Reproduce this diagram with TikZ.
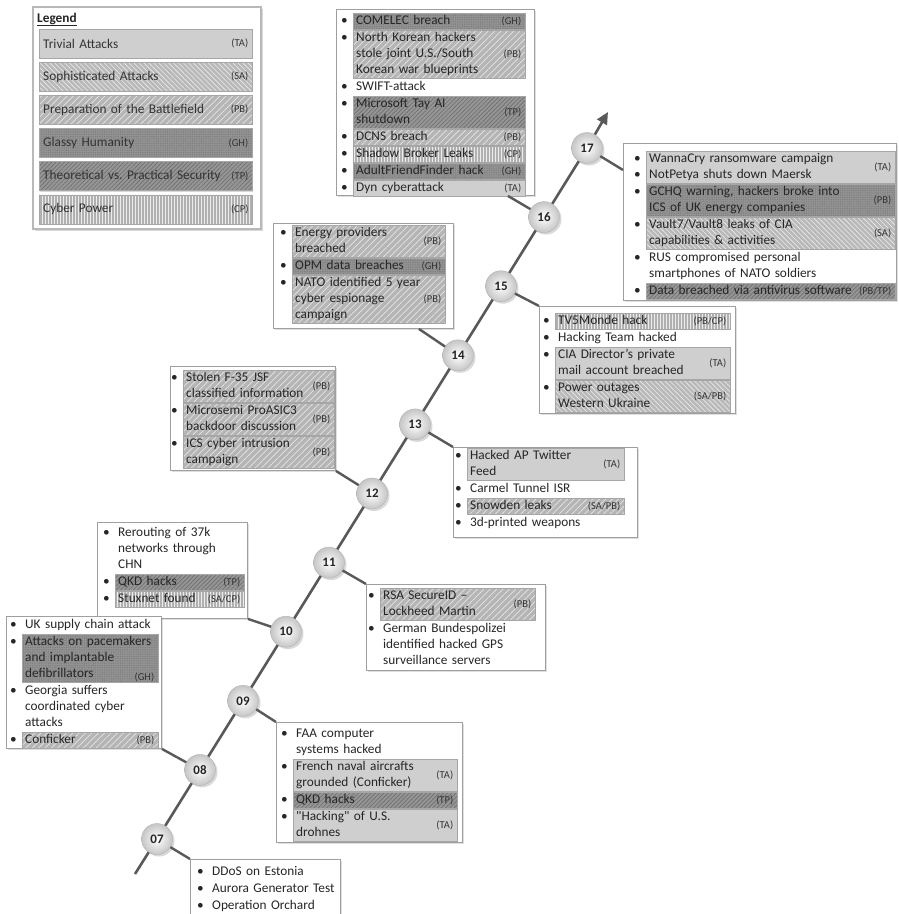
\documentclass[tikz,border=0pt]{standalone}
\usepackage{fontspec}
\setmainfont{Carlito}
\usetikzlibrary{positioning,shadows,patterns.meta,arrows.meta}
\newcommand{\evfont}{\fontsize{13.3}{16}\selectfont}
\newcommand{\tagfont}{\fontsize{10.5}{12}\selectfont}
\frenchspacing
\begin{document}
\begin{tikzpicture}[x=1pt,y=-1pt,
    % boxes, items and their labels
    evbox/.style 2 args={draw=gray!75, line width=0.9pt, fill=white, anchor=north west, inner sep=0pt,
      minimum width=#1pt, minimum height=#2pt,
      drop shadow={shadow xshift=1.5pt, shadow yshift=-1.5pt, opacity=0.25}},
    ev/.style={anchor=north west, inner xsep=3pt, inner ysep=0pt, text width=#1, align=left,
      font=\evfont, text=black!85, execute at begin node=\strut, execute at end node=\strut,
      label={[bul]north west:\strut\textbullet}},
    bul/.style={anchor=north east, inner sep=0pt, xshift=-5pt, font=\evfont, text=black!85},
    bultwo/.style={label={[bul,yshift=-16pt]north west:\strut\textbullet}},
    tagl/.style={anchor=east, inner xsep=4pt, inner ysep=0pt, font=\tagfont, text=black!80},
    tag/.style={label={[tagl]east:(#1)}},
    stack/.style={below=0.6pt of #1.south west, anchor=north west},
    % the six kinds of events
    bar/.style={draw=gray!70, line width=0.4pt, drop shadow={shadow xshift=1pt, shadow yshift=-1pt, opacity=0.3}},
    ta/.style={bar, preaction={fill=gray!35}, pattern={Dots[distance=2pt, radius=0.4pt]}, pattern color=gray!60},
    sa/.style={bar, preaction={fill=gray!55}, pattern={Lines[angle=-45, distance=3.5pt, line width=0.6pt]}, pattern color=gray!15},
    pb/.style={bar, preaction={fill=gray!58}, pattern={Lines[angle=45, distance=4.5pt, line width=0.7pt]}, pattern color=gray!20},
    gh/.style={bar, preaction={fill=gray!85}, pattern={Dots[distance=1.8pt, radius=0.45pt]}, pattern color=black!55},
    tp/.style={bar, preaction={fill=gray!82}, pattern={Lines[angle=45, distance=3pt, line width=0.8pt]}, pattern color=black!55},
    cp/.style={bar, preaction={fill=gray!62}, pattern={Lines[angle=90, distance=3pt, line width=0.9pt]}, pattern color=gray!15},
    leg/.style={anchor=north west, minimum width=213pt, minimum height=29pt, text width=205pt, inner xsep=4pt,
      align=left, font=\evfont, text=black!80},
    % timeline
    year/.style={circle, minimum size=31pt, inner sep=0pt, inner color=white, outer color=gray!45, draw=gray!60,
      font=\fontsize{13}{15}\selectfont\bfseries, text=black!85,
      drop shadow={shadow xshift=2pt, shadow yshift=-2pt, opacity=0.3}},
    spine/.style={draw=black!65, line width=2.6pt},
    link/.style={draw=black!65, line width=2.4pt},
  ]
  \useasboundingbox (0,0) rectangle (898,914);

  % Legend:
  % One frame, and one bar per kind, stacked with `below`
  \node[draw=gray!55, line width=2pt, fill=white, anchor=north west, minimum width=228pt, minimum height=222pt,
    drop shadow={shadow xshift=2pt, shadow yshift=-2pt, opacity=0.3}] (legbox) at (32,6) {};
  \node[anchor=base west, inner sep=0pt, font=\evfont\bfseries, text=black!85] (legtitle) at (37,22) {\underline{Legend}};
  \node[leg, ta, tag=TA] (lta) at (39,29) {Trivial Attacks};
  \node[leg, sa, tag=SA, below=3.5pt of lta] (lsa) {Sophisticated Attacks};
  \node[leg, pb, tag=PB, below=3.5pt of lsa] (lpb) {Preparation of the Battlefield};
  \node[leg, gh, tag=GH, below=3.5pt of lpb] (lgh) {Glassy Humanity};
  \node[leg, tp, tag=TP, below=3.5pt of lgh] (ltp) {Theoretical vs. Practical Security};
  \node[leg, cp, tag=CP, below=3.5pt of ltp] (lcp) {Cyber Power};

  % Event boxes:
  % Each box is placed at its corner, the first item goes in at an offset,
  % the others are hung below it with `stack`
  % 2016
  \node[evbox={198}{186}] (b16) at (336,9) {};
  \node[ev=166pt, gh, tag=GH] (e16a) at ([xshift=17pt,yshift=-4pt]b16.north west) {COMELEC breach};
  \node[ev=166pt, pb, tag=PB, stack=e16a] (e16b) {North Korean hackers\\stole joint U.S./South\\Korean war blueprints};
  \node[ev=166pt, stack=e16b] (e16c) {SWIFT-attack};
  \node[ev=166pt, tp, tag=TP, stack=e16c] (e16d) {Microsoft Tay AI\\shutdown};
  \node[ev=166pt, pb, tag=PB, stack=e16d] (e16e) {DCNS breach};
  \node[ev=166pt, cp, tag=CP, stack=e16e] (e16f) {Shadow Broker Leaks};
  \node[ev=166pt, gh, tag=GH, stack=e16f] (e16g) {AdultFriendFinder hack};
  \node[ev=166pt, ta, tag=TA, stack=e16g] (e16h) {Dyn cyberattack};

  % 2017
  \node[evbox={273}{157}] (b17) at (623,143) {};
  \node[ev=243pt, ta, tag=TA, bultwo] (e17a) at ([xshift=23pt,yshift=-8pt]b17.north west) {WannaCry ransomware campaign\\NotPetya shuts down Maersk};
  \node[ev=243pt, gh, tag=PB, stack=e17a] (e17b) {GCHQ warning, hackers broke into\\ICS of UK energy companies};
  \node[ev=243pt, sa, tag=SA, stack=e17b] (e17c) {Vault7/Vault8 leaks of CIA\\capabilities \& activities};
  \node[ev=243pt, stack=e17c] (e17d) {RUS compromised personal\\smartphones of NATO soldiers};
  \node[ev=243pt, tp, tag=PB/TP, stack=e17d] (e17e) {Data breached via antivirus software};

  % 2015
  \node[evbox={196}{107}] (b15) at (539,306) {};
  \node[ev=169pt, cp, tag=PB/CP] (e15a) at ([xshift=16pt,yshift=-7pt]b15.north west) {TV5Monde hack};
  \node[ev=169pt, stack=e15a] (e15b) {Hacking Team hacked};
  \node[ev=169pt, ta, tag=TA, stack=e15b] (e15c) {CIA Director’s private\\mail account breached};
  \node[ev=169pt, sa, tag=SA/PB, stack=e15c] (e15d) {Power outages\\Western Ukraine};

  % 2014
  \node[evbox={180}{105}] (b14) at (273,223) {};
  \node[ev=147pt, pb, tag=PB] (e14a) at ([xshift=19pt,yshift=-2pt]b14.north west) {Energy providers\\breached};
  \node[ev=147pt, gh, tag=GH, stack=e14a] (e14b) {OPM data breaches};
  \node[ev=147pt, pb, tag=PB, stack=e14b] (e14c) {NATO identified 5 year\\cyber espionage\\campaign};

  % 2013
  \node[evbox={184}{90}] (b13) at (453,447) {};
  \node[ev=151pt, ta, tag=TA] (e13a) at ([xshift=14pt,yshift=-1pt]b13.north west) {Hacked AP Twitter\\Feed};
  \node[ev=151pt, stack=e13a] (e13b) {Carmel Tunnel ISR};
  \node[ev=151pt, pb, tag=SA/PB, stack=e13b] (e13c) {Snowden leaks};
  \node[ev=151pt, stack=e13c] (e13d) {3d-printed weapons};

  % 2012
  \node[evbox={165}{104}] (b12) at (170,366) {};
  \node[ev=145pt, pb, tag=PB] (e12a) at ([xshift=13pt,yshift=-4pt]b12.north west) {Stolen F-35 JSF\\classified information};
  \node[ev=145pt, pb, tag=PB, stack=e12a] (e12b) {Microsemi ProASIC3\\backdoor discussion};
  \node[ev=145pt, pb, tag=PB, stack=e12b] (e12c) {ICS cyber intrusion\\campaign};

  % 2011
  \node[evbox={179}{86}] (b11) at (366,584) {};
  \node[ev=149pt, pb, tag=PB] (e11a) at ([xshift=14pt,yshift=-4pt]b11.north west) {RSA SecureID –\\Lockheed Martin};
  \node[ev=149pt, stack=e11a] (e11b) {German Bundespolizei\\identified hacked GPS\\surveillance servers};

  % 2010
  \node[evbox={150}{96}] (b10) at (97,522) {};
  \node[ev=123pt] (e10a) at ([xshift=18pt,yshift=-3pt]b10.north west) {Rerouting of 37k\\networks through\\CHN};
  \node[ev=123pt, tp, tag=TP, stack=e10a] (e10b) {QKD hacks};
  \node[ev=123pt, cp, tag=SA/CP, stack=e10b] (e10c) {Stuxnet found};

  % 2009
  \node[evbox={186}{120}] (b09) at (276,722) {};
  \node[ev=158pt] (e09a) at ([xshift=17pt,yshift=-4pt]b09.north west) {FAA computer\\systems hacked};
  \node[ev=158pt, ta, tag=TA, stack=e09a] (e09b) {French naval aircrafts\\grounded (Conficker)};
  \node[ev=158pt, tp, tag=TP, stack=e09b] (e09c) {QKD hacks};
  \node[ev=158pt, ta, tag=TA, stack=e09c] (e09d) {\textquotedbl Hacking\textquotedbl{} of U.S.\\drohnes};

  % 2008
  \node[evbox={155}{132}] (b08) at (6,616) {};
  \node[ev=130pt] (e08a) at ([xshift=16pt,yshift=-1pt]b08.north west) {UK supply chain attack};
  \node[ev=130pt, gh, label={[tagl,anchor=south east]south east:(GH)}, stack=e08a] (e08b) {Attacks on pacemakers\\and implantable\\defibrillators};
  \node[ev=130pt, stack=e08b] (e08c) {Georgia suffers\\coordinated cyber\\attacks};
  \node[ev=130pt, pb, tag=PB, stack=e08c] (e08d) {Conficker};

  % 2007
  \node[evbox={150}{55}] (b07) at (190,859) {};
  \node[ev=125pt] (e07a) at ([xshift=19pt,yshift=-5pt]b07.north west) {DDoS on Estonia};
  \node[ev=125pt, stack=e07a] (e07b) {Aurora Generator Test};
  \node[ev=125pt, stack=e07b] (e07c) {Operation Orchard};

  % Timeline:
  % The years sit on one straight line, one step apart
  \foreach \yr [count=\i from 0] in {07,08,09,10,11,12,13,14,15,16,17}
    \node[year] (c\yr) at ({157+43*\i},{839-69.1*\i}) {\yr};
  \coordinate (start) at (135,874);
  \coordinate (tip) at (608,112);
  \draw[spine] (start) -- (c07);
  \foreach \a/\b in {07/08,08/09,09/10,10/11,11/12,12/13,13/14,14/15,15/16,16/17}
    \draw[spine] (c\a) -- (c\b);
  \draw[spine,-{Triangle[length=12pt,width=11pt]}] (c17) -- (tip);

  % Links from the years to their boxes
  \draw[link] (c07) -- (b07.north west);
  \draw[link] (c08) -- (b08.south east);
  \draw[link] (c09) -- (b09.north west);
  \draw[link] (c10) -- (b10.south east);
  \draw[link] (c11) -- (b11.north west);
  \draw[link] (c12) -- (b12.south east);
  \draw[link] (c13) -- (b13.north west);
  \draw[link] (c14) -- ([xshift=-35pt]b14.south east);
  \draw[link] (c15) -- (b15.north west);
  \draw[link] (c16) -- ([xshift=-27pt]b16.south east);
  \draw[link] (c17) -- ([yshift=-27pt]b17.north west);
\end{tikzpicture}
\end{document}
